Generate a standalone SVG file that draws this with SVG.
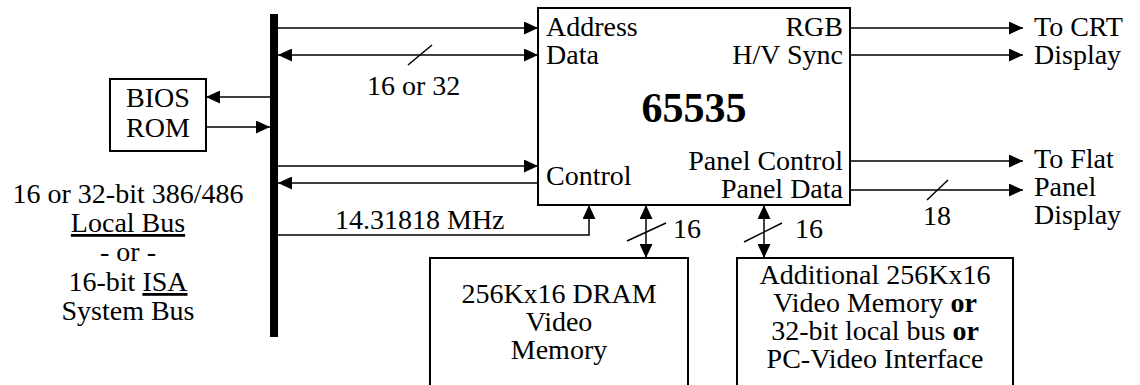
<svg xmlns="http://www.w3.org/2000/svg" width="1140" height="385" viewBox="0 0 1140 385" font-family="Liberation Serif, Times New Roman, serif">
<style>
text{font-size:28px;fill:#000}
.m{text-anchor:middle}
.e{text-anchor:end}
.b{font-weight:bold}
.box{fill:#fff;stroke:#000;stroke-width:2}
.ln{fill:none;stroke:#000;stroke-width:1.5}
.u{text-decoration:underline}
</style>
<defs>
<marker id="ah" markerUnits="userSpaceOnUse" markerWidth="15" markerHeight="13" refX="14" refY="6.5" orient="auto-start-reverse" viewBox="0 0 15 13">
<path d="M0,0 L14,6.5 L0,13 z" fill="#000"/>
</marker>
</defs>
<rect width="1140" height="385" fill="#fff"/>
<g id="bus">
<rect x="270" y="14" width="8" height="323" fill="#000"/>
<text class="m" x="128" y="203">16 or 32-bit 386/486</text>
<text class="m" x="128" y="232"><tspan class="u">Local Bus</tspan></text>
<text class="m" x="128" y="261">- or -</text>
<text class="m" x="128" y="291">16-bit <tspan class="u">ISA</tspan></text>
<text class="m" x="128" y="320">System Bus</text>
</g>
<g id="bios">
<rect class="box" x="110" y="79" width="96" height="72"/>
<text class="m" x="158" y="107">BIOS</text>
<text class="m" x="158" y="137">ROM</text>
</g>
<g id="chip">
<rect class="box" x="538" y="8" width="312" height="197"/>
<text x="546" y="36">Address</text>
<text x="546" y="64">Data</text>
<text class="e" x="843" y="36">RGB</text>
<text class="e" x="843" y="64">H/V Sync</text>
<text class="m b" x="694" y="122" style="font-size:42px">65535</text>
<text x="546" y="185">Control</text>
<text class="e" x="843" y="170">Panel Control</text>
<text class="e" x="843" y="198">Panel Data</text>
</g>
<g id="dram">
<rect class="box" x="430" y="258" width="258" height="140"/>
<text class="m" x="559" y="303">256Kx16 DRAM</text>
<text class="m" x="559" y="331">Video</text>
<text class="m" x="559" y="359">Memory</text>
</g>
<g id="extra">
<rect class="box" x="737" y="258" width="276" height="140"/>
<text class="m" x="875" y="284">Additional 256Kx16</text>
<text class="m" x="875" y="312">Video Memory <tspan class="b">or</tspan></text>
<text class="m" x="875" y="340">32-bit local bus <tspan class="b">or</tspan></text>
<text class="m" x="875" y="368">PC-Video Interface</text>
</g>
<g id="crt">
<text x="1034" y="36">To CRT</text>
<text x="1034" y="64">Display</text>
</g>
<g id="flat">
<text x="1034" y="168">To Flat</text>
<text x="1034" y="196">Panel</text>
<text x="1034" y="224">Display</text>
</g>
<g id="connectors">
<line class="ln" x1="278" y1="28" x2="538" y2="28" marker-end="url(#ah)"/>
<line class="ln" x1="278" y1="55" x2="538" y2="55" marker-start="url(#ah)" marker-end="url(#ah)"/>
<line class="ln" x1="408" y1="65" x2="432" y2="45"/>
<text x="367" y="95">16 or 32</text>
<line class="ln" x1="270" y1="97" x2="206" y2="97" marker-end="url(#ah)"/>
<line class="ln" x1="206" y1="127" x2="270" y2="127" marker-end="url(#ah)"/>
<line class="ln" x1="278" y1="166" x2="538" y2="166" marker-end="url(#ah)"/>
<line class="ln" x1="538" y1="183" x2="278" y2="183" marker-end="url(#ah)"/>
<path class="ln" d="M278,235 H589 V205" marker-end="url(#ah)"/>
<text x="335" y="229">14.31818 MHz</text>
<line class="ln" x1="850" y1="28" x2="1023" y2="28" marker-end="url(#ah)"/>
<line class="ln" x1="850" y1="55" x2="1023" y2="55" marker-end="url(#ah)"/>
<line class="ln" x1="850" y1="161" x2="1023" y2="161" marker-end="url(#ah)"/>
<line class="ln" x1="850" y1="190" x2="1023" y2="190" marker-end="url(#ah)"/>
<line class="ln" x1="927" y1="200" x2="948" y2="180"/>
<text x="923" y="225">18</text>
<line class="ln" x1="646" y1="205" x2="646" y2="258" marker-start="url(#ah)" marker-end="url(#ah)"/>
<line class="ln" x1="627" y1="241" x2="666" y2="223"/>
<text x="673" y="238">16</text>
<line class="ln" x1="764" y1="205" x2="764" y2="258" marker-start="url(#ah)" marker-end="url(#ah)"/>
<line class="ln" x1="744" y1="242" x2="782" y2="223"/>
<text x="795" y="238">16</text>
</g>
</svg>
